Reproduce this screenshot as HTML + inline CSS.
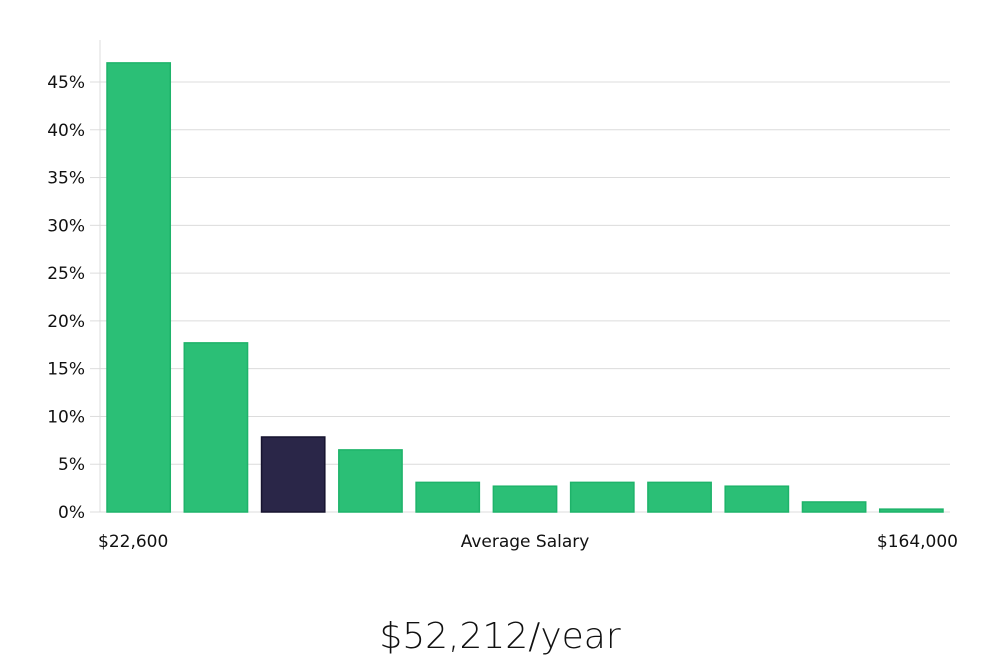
<!DOCTYPE html>
<html><head><meta charset="utf-8"><style>
body{margin:0;background:#fff;width:1000px;height:660px;overflow:hidden;font-family:"DejaVu Sans","Liberation Sans",sans-serif}
</style></head><body>
<svg width="1000" height="660" id="chart">
<text x="500" y="648" text-anchor="middle" font-size="36" font-family="'DejaVu Sans','Liberation Sans',sans-serif" font-weight="200" fill="#111">$52,212/year</text>
<text x="98" y="547" font-size="17" fill="#111">$22,600</text>
<text x="525" y="547" text-anchor="middle" font-size="17" fill="#111">Average Salary</text>
<text x="958" y="547" text-anchor="end" font-size="17" fill="#111">$164,000</text>
</svg>
<script>
const values=[47.0,17.7,7.85,6.5,3.1,2.7,3.1,3.1,2.7,1.05,0.3];
const highlight=[false,false,true,false,false,false,false,false,false,false,false];
const ticks=[0,5,10,15,20,25,30,35,40,45];
const tickLabels=["0%","5%","10%","15%","20%","25%","30%","35%","40%","45%"];
const svg=document.getElementById('chart');const NS='http://www.w3.org/2000/svg';
const x0=100,x1=950,y0=512,pxPer=(512-82)/45;
const y=v=>y0-v*pxPer;
const step=(x1-x0)/values.length;
function mk(t,a){const e=document.createElementNS(NS,t);for(const k in a)e.setAttribute(k,a[k]);svg.insertBefore(e,svg.firstChild);return e;}
values.forEach((v,i)=>{const r=mk('rect',{x:x0+7+i*step,y:y(v),width:step-14,height:v*pxPer,fill:highlight[i]?'#2a2648':'#2bbf76',stroke:highlight[i]?'#16132f':'#1eb36a','stroke-width':1.5});

});
ticks.forEach((t,i)=>{const g=mk('line',{x1:x0,x2:x1,y1:y(t),y2:y(t),stroke:'#dcdcdc','stroke-width':1});


const tm=mk('line',{x1:90,x2:x0,y1:y(t),y2:y(t),stroke:'#dcdcdc','stroke-width':1});


const tx=mk('text',{x:85,y:y(t)+6,'text-anchor':'end','font-size':17,fill:'#111'});tx.textContent=tickLabels[i];

});
const ax=mk('line',{x1:x0,x2:x0,y1:40,y2:y0,stroke:'#dcdcdc','stroke-width':1});


</script>
</body></html>
